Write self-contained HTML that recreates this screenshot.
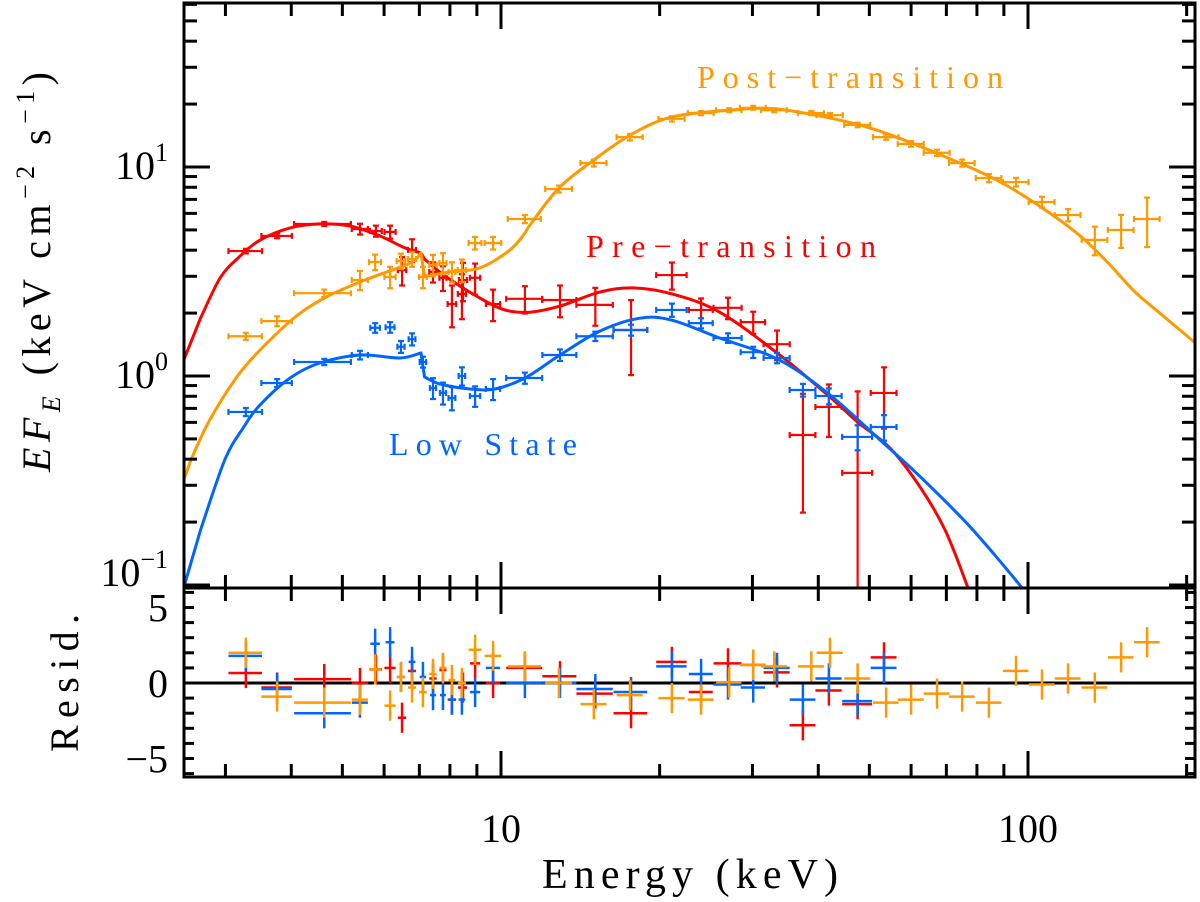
<!DOCTYPE html>
<html><head><meta charset="utf-8"><style>
html,body{margin:0;padding:0;background:#fff;}
svg{display:block;font-family:"Liberation Serif",serif;}
</style></head><body>
<svg id="chart" width="1200" height="902" viewBox="0 0 1200 902" xmlns="http://www.w3.org/2000/svg">
<defs>
<clipPath id="cm"><rect x="184" y="3" width="1011" height="585"/></clipPath>
<clipPath id="cr"><rect x="184" y="588" width="1011" height="189"/></clipPath>
</defs>
<g id="marks"></g>
<g id="axes"></g>
<text x="690" y="888" font-size="42" text-anchor="middle" textLength="296" lengthAdjust="spacing">Energy (keV)</text>
<text transform="translate(50,272) rotate(-90)" font-size="40" text-anchor="middle" textLength="400" lengthAdjust="spacing"><tspan font-style="italic">EF</tspan><tspan font-style="italic" font-size="26" dy="10">E</tspan><tspan dy="-10"> (keV cm</tspan><tspan font-size="26" dy="-16">−2</tspan><tspan dy="16"> s</tspan><tspan font-size="26" dy="-16">−1</tspan><tspan dy="16">)</tspan></text>
<text transform="translate(78,683) rotate(-90)" font-size="40" text-anchor="middle" textLength="138" lengthAdjust="spacing">Resid.</text>
<text x="850" y="88" font-size="32" fill="#ff9900" text-anchor="middle" textLength="306" lengthAdjust="spacing">Post−transition</text>
<text x="731" y="257" font-size="32" fill="#ff0000" text-anchor="middle" textLength="290" lengthAdjust="spacing">Pre−transition</text>
<text x="483" y="455" font-size="32" fill="#0066ff" text-anchor="middle" textLength="188" lengthAdjust="spacing">Low State</text>
</svg>
<script>
// data: [energy keV, flux, flux err, energy half-width keV]
const redData=[[3.28,3.96,0.10,0.24],[3.76,4.68,0.12,0.25],[4.62,5.34,0.12,0.57],[5.40,5.05,0.3,0.19],[5.79,4.94,0.3,0.15],[6.16,4.89,0.35,0.15],[6.78,4.01,0.5,0.12],[6.49,3.21,0.5,0.12],[7.43,3.15,0.35,0.12],[7.76,2.95,0.4,0.12],[8.47,2.88,0.6,0.15],[8.07,2.21,0.5,0.15],[8.43,2.47,0.6,0.15],[8.93,2.95,0.5,0.2],[9.66,2.21,0.38,0.3],[11.1,2.34,0.35,0.87],[12.94,2.31,0.4,0.96],[15.1,2.19,0.45,1.2],[17.65,1.66,0.65,1.3],[21.1,3.04,0.45,1.4],[23.97,2.07,0.28,1.25],[26.96,2.12,0.25,1.65],[30.1,1.81,0.22,1.6],[33.4,1.42,0.23,1.9],[37.4,0.522,0.3,2.1],[41.9,0.711,0.2,2.4],[47.5,0.344,0.5,3.1],[53.3,0.83,0.27,3.0]];
const blueData=[[3.28,0.673,0.03,0.24],[3.76,0.926,0.04,0.25],[4.62,1.167,0.04,0.57],[5.40,1.26,0.06,0.19],[5.77,1.70,0.09,0.12],[6.16,1.71,0.1,0.12],[6.46,1.38,0.09,0.1],[6.78,1.50,0.1,0.1],[7.11,1.167,0.07,0.1],[7.43,0.876,0.1,0.1],[7.76,0.83,0.1,0.1],[8.07,0.785,0.1,0.12],[8.43,1.0,0.1,0.12],[8.93,0.802,0.09,0.2],[9.66,0.867,0.1,0.3],[11.1,0.978,0.06,0.87],[12.94,1.26,0.08,0.96],[15.1,1.55,0.08,1.2],[17.65,1.66,0.1,1.3],[21.1,2.07,0.15,1.4],[23.97,1.79,0.1,1.25],[26.96,1.52,0.08,1.65],[30.1,1.30,0.08,1.6],[33.4,1.22,0.07,1.9],[37.4,0.857,0.06,2.1],[41.9,0.802,0.07,2.4],[47.5,0.511,0.07,3.1],[53.3,0.570,0.08,3.0]];
const orangeData=[[3.28,1.55,0.06,0.24],[3.76,1.83,0.1,0.25],[4.62,2.49,0.1,0.57],[5.40,2.88,0.3,0.19],[5.77,3.51,0.3,0.15],[6.16,2.98,0.35,0.15],[6.46,3.55,0.3,0.12],[6.78,3.63,0.3,0.12],[7.11,2.98,0.35,0.12],[7.43,3.40,0.4,0.12],[7.76,3.47,0.4,0.12],[8.07,3.15,0.35,0.12],[8.43,3.21,0.4,0.15],[8.93,4.33,0.3,0.25],[9.66,4.33,0.3,0.35],[11.1,5.64,0.25,0.8],[12.88,7.85,0.3,0.75],[15.0,10.45,0.4,0.85],[17.57,13.9,0.5,1.0],[21.1,17.0,0.5,1.2],[23.97,18.1,0.4,1.35],[27.1,18.7,0.4,1.5],[30.1,19.2,0.4,1.7],[33.0,18.7,0.4,1.85],[38.8,18.1,0.4,2.2],[42.1,17.7,0.4,2.4],[47.5,15.9,0.4,2.7],[53.8,13.9,0.4,3.0],[60.0,12.9,0.4,3.4],[67.2,11.7,0.4,3.8],[75.0,10.45,0.4,4.2],[84.3,8.86,0.4,4.7],[94.9,8.47,0.4,5.3],[106.3,6.80,0.4,6.0],[119.1,5.89,0.4,6.7],[133.9,4.48,0.7,7.5],[150.2,5.0,0.9,8.4],[168.3,5.64,1.5,9.4]];
// residuals in same order as data arrays
const redResid=[0.66,-0.3,0.26,0,0.9,1.0,0.8,-2.3,0.3,0.86,-0.3,-1.1,-0.3,1.3,0,1.0,0.45,-0.7,-2.0,1.4,-0.6,1.3,1.2,0.7,-2.8,-0.5,-1.4,1.7];
const blueResid=[1.8,-0.4,-2.0,-1.3,2.6,2.7,0.4,1.4,0.4,-0.8,-0.8,-1.1,-1.1,-0.6,1.0,0,0,-0.4,-0.6,1.1,0.6,-0.1,-0.3,1.0,-1.1,0.3,-1.2,1.0];
const orangeResid=[2.0,-0.9,-1.3,-1.1,0.9,-1.5,0.4,-0.3,-0.6,0.6,1.0,0.2,0,2.2,1.8,1.1,0,-1.4,-0.8,-1.0,-1.1,0.05,1.2,1.1,1.1,2.0,0.3,-1.3,-1.1,-0.7,-0.9,-1.3,0.8,-0.1,0.3,-0.3,1.7,2.7];
// model curves [energy, flux]
const redModel=[[2.50,1.19],[2.69,1.89],[2.93,2.94],[3.17,3.67],[3.49,4.47],[3.98,5.11],[4.53,5.34],[5.17,5.22],[5.89,4.68],[6.57,4.10],[7.05,3.88],[7.16,3.63],[7.83,3.01],[9.12,2.36],[10.18,2.07],[11.35,2.02],[12.94,2.16],[15.4,2.52],[17.8,2.64],[21.1,2.47],[26.0,2.02],[33.8,1.26],[42.1,0.793],[47.5,0.602],[54.7,0.453],[62.4,0.294],[69.6,0.183],[76.9,0.097],[80,0.07]];
const blueModel=[[2.50,0.097],[2.69,0.183],[2.99,0.396],[3.24,0.564],[3.49,0.727],[3.98,0.978],[4.53,1.154],[5.40,1.26],[6.43,1.22],[7.05,1.29],[7.16,0.99],[7.66,0.916],[8.73,0.867],[9.74,0.867],[11.1,0.978],[12.94,1.26],[15.4,1.64],[18.35,1.89],[21.1,1.85],[26.0,1.52],[33.8,1.19],[42.1,0.811],[52.4,0.494],[62.4,0.330],[77.6,0.190],[97.4,0.097],[102,0.08]];
const orangeModel=[[2.50,0.318],[2.58,0.396],[2.80,0.616],[3.20,1.04],[3.65,1.49],[4.16,2.0],[4.74,2.44],[5.64,2.94],[6.72,3.47],[7.05,3.88],[7.16,2.98],[8.00,3.15],[9.12,3.29],[10.4,4.01],[11.1,4.83],[11.35,5.28],[12.88,7.94],[15.0,10.8],[17.57,14.2],[21.0,17.3],[27.1,18.7],[33.0,19.0],[41.4,17.3],[51.7,15.0],[68.4,11.4],[90.8,8.2],[120.3,5.11],[140,3.6],[159,2.55],[180,1.95],[207.5,1.44],[215,1.3]];
const xTickMajor=[10,100];
const xTickLabels=["10","100"];
const yTickMajor=[0.1,1,10];
const yTickExp=["−1","0","1"];
const rTicks=[5,0,-5];
const rTickLabels=["5","0","−5"];

const NS="http://www.w3.org/2000/svg";
const L=184,R=1195,T=3,M=588,B=777;
function X(e){return 501+527*(Math.log10(e)-1);}
function Y(f){return 376-209*Math.log10(Math.max(f,1e-3));}
function RY(r){return 683-15.1*r;}
function mk(tag,attrs,parent){const el=document.createElementNS(NS,tag);for(const k in attrs)el.setAttribute(k,attrs[k]);parent.appendChild(el);return el;}
// smooth path, straight across the iron edge (tiny energy step)
function smoothPath(model){
  const P=model.map(p=>[X(p[0]),Y(p[1])]);
  const segs=[];let cur=[P[0]];
  for(let i=1;i<P.length;i++){
    if(model[i][0]-model[i-1][0]<0.2){segs.push(cur);cur=[P[i-1],P[i]];segs.push(cur);cur=[P[i]];}
    else cur.push(P[i]);
  }
  segs.push(cur);
  let d='M'+P[0][0].toFixed(1)+','+P[0][1].toFixed(1);
  segs.forEach(s=>{
    if(s.length<2)return;
    if(s.length===2){d+=' L'+s[1][0].toFixed(1)+','+s[1][1].toFixed(1);return;}
    for(let i=0;i<s.length-1;i++){
      const p0=s[Math.max(i-1,0)],p1=s[i],p2=s[i+1],p3=s[Math.min(i+2,s.length-1)];
      const c1=[p1[0]+(p2[0]-p0[0])/6,p1[1]+(p2[1]-p0[1])/6];
      const c2=[p2[0]-(p3[0]-p1[0])/6,p2[1]-(p3[1]-p1[1])/6];
      d+=' C'+c1[0].toFixed(1)+','+c1[1].toFixed(1)+' '+c2[0].toFixed(1)+','+c2[1].toFixed(1)+' '+p2[0].toFixed(1)+','+p2[1].toFixed(1);
    }
  });
  return d;
}
const marks=document.getElementById('marks');
const axes=document.getElementById('axes');
const gm=mk('g',{'clip-path':'url(#cm)'},marks);


const gr=mk('g',{'clip-path':'url(#cr)'},marks);



const series=[
 {name:'pre-transition',color:'#ff0000',data:redData,res:redResid,model:redModel},
 {name:'low-state',color:'#0066ff',data:blueData,res:blueResid,model:blueModel},
 {name:'post-transition',color:'#ff9900',data:orangeData,res:orangeResid,model:orangeModel}
];
const zl=mk('line',{x1:L,x2:R,y1:RY(0),y2:RY(0),stroke:'#000','stroke-width':3},gr);


series.forEach(s=>{
  const pl=mk('path',{d:smoothPath(s.model),fill:'none',stroke:s.color,'stroke-width':3,'stroke-linejoin':'round'},gm);
  
  
  s.data.forEach((d,i)=>{
    const g=mk('g',{stroke:s.color,'stroke-width':2.2},gm);
    
    
    const x=X(d[0]),y=Y(d[1]),x1=X(d[0]-d[3]),x2=X(d[0]+d[3]);
    const y1=Y(d[1]+d[2]),y2=Y(Math.max(d[1]-d[2],0.01));
    mk('line',{x1:x1,x2:x2,y1:y,y2:y},g);
    mk('line',{x1:x,x2:x,y1:y1,y2:y2},g);
    mk('line',{x1:x1,x2:x1,y1:y-3,y2:y+3},g);
    mk('line',{x1:x2,x2:x2,y1:y-3,y2:y+3},g);
    mk('line',{x1:x-3,x2:x+3,y1:y1,y2:y1},g);
    mk('line',{x1:x-3,x2:x+3,y1:y2,y2:y2},g);
    const r=s.res[i];
    const gg=mk('g',{stroke:s.color,'stroke-width':2.5},gr);
    
    
    const ry=RY(r);
    mk('line',{x1:x1,x2:x2,y1:ry,y2:ry},gg);
    mk('line',{x1:x,x2:x,y1:RY(r+1),y2:RY(r-1)},gg);
  });
});

const f1=mk('rect',{x:L,y:T,width:R-L,height:M-T,fill:'none',stroke:'#000','stroke-width':3},axes);


const f2=mk('rect',{x:L,y:M,width:R-L,height:B-M,fill:'none',stroke:'#000','stroke-width':3},axes);


const tg=mk('g',{stroke:'#000','stroke-width':3},axes);


for(let dec=1;dec<=100;dec*=10){for(let k=1;k<=9;k++){const e=dec*k;const x=X(e);if(x<L+1||x>R-1)continue;const len=(k===1)?26:13;
  [[T,1],[M,-1],[M,1],[B,-1]].forEach(([y0,dir])=>mk('line',{x1:x,x2:x,y1:y0,y2:y0+dir*len},tg));}}
for(let dec=0.1;dec<=10.01;dec*=10){for(let k=1;k<=9;k++){const f=dec*k;const y=Y(f);if(y<T+1||y>M-1)continue;const len=(k===1)?26:13;
  mk('line',{x1:L,x2:L+len,y1:y,y2:y},tg);mk('line',{x1:R,x2:R-len,y1:y,y2:y},tg);}}
for(let r=-6;r<=6;r++){const y=RY(r);if(y<M+2||y>B-2)continue;mk('line',{x1:L,x2:L+10,y1:y,y2:y},tg);mk('line',{x1:R,x2:R-10,y1:y,y2:y},tg);}
xTickMajor.forEach((e,i)=>{const t=mk('text',{x:X(e),y:842,'font-size':40,'text-anchor':'middle'},axes);t.textContent=xTickLabels[i];
  
  });
yTickMajor.forEach((f,i)=>{let y=Y(f)+12;if(y>590)y=586;const t=mk('text',{x:168,y:y,'font-size':40,'text-anchor':'end'},axes);
  
  
  const a=mk('tspan',{},t);a.textContent='10';const b=mk('tspan',{'font-size':26,dy:-18},t);b.textContent=yTickExp[i];});
rTicks.forEach((r,i)=>{const t=mk('text',{x:168,y:RY(r)+14,'font-size':40,'text-anchor':'end'},axes);t.textContent=rTickLabels[i];
  
  });
</script>
</body></html>
